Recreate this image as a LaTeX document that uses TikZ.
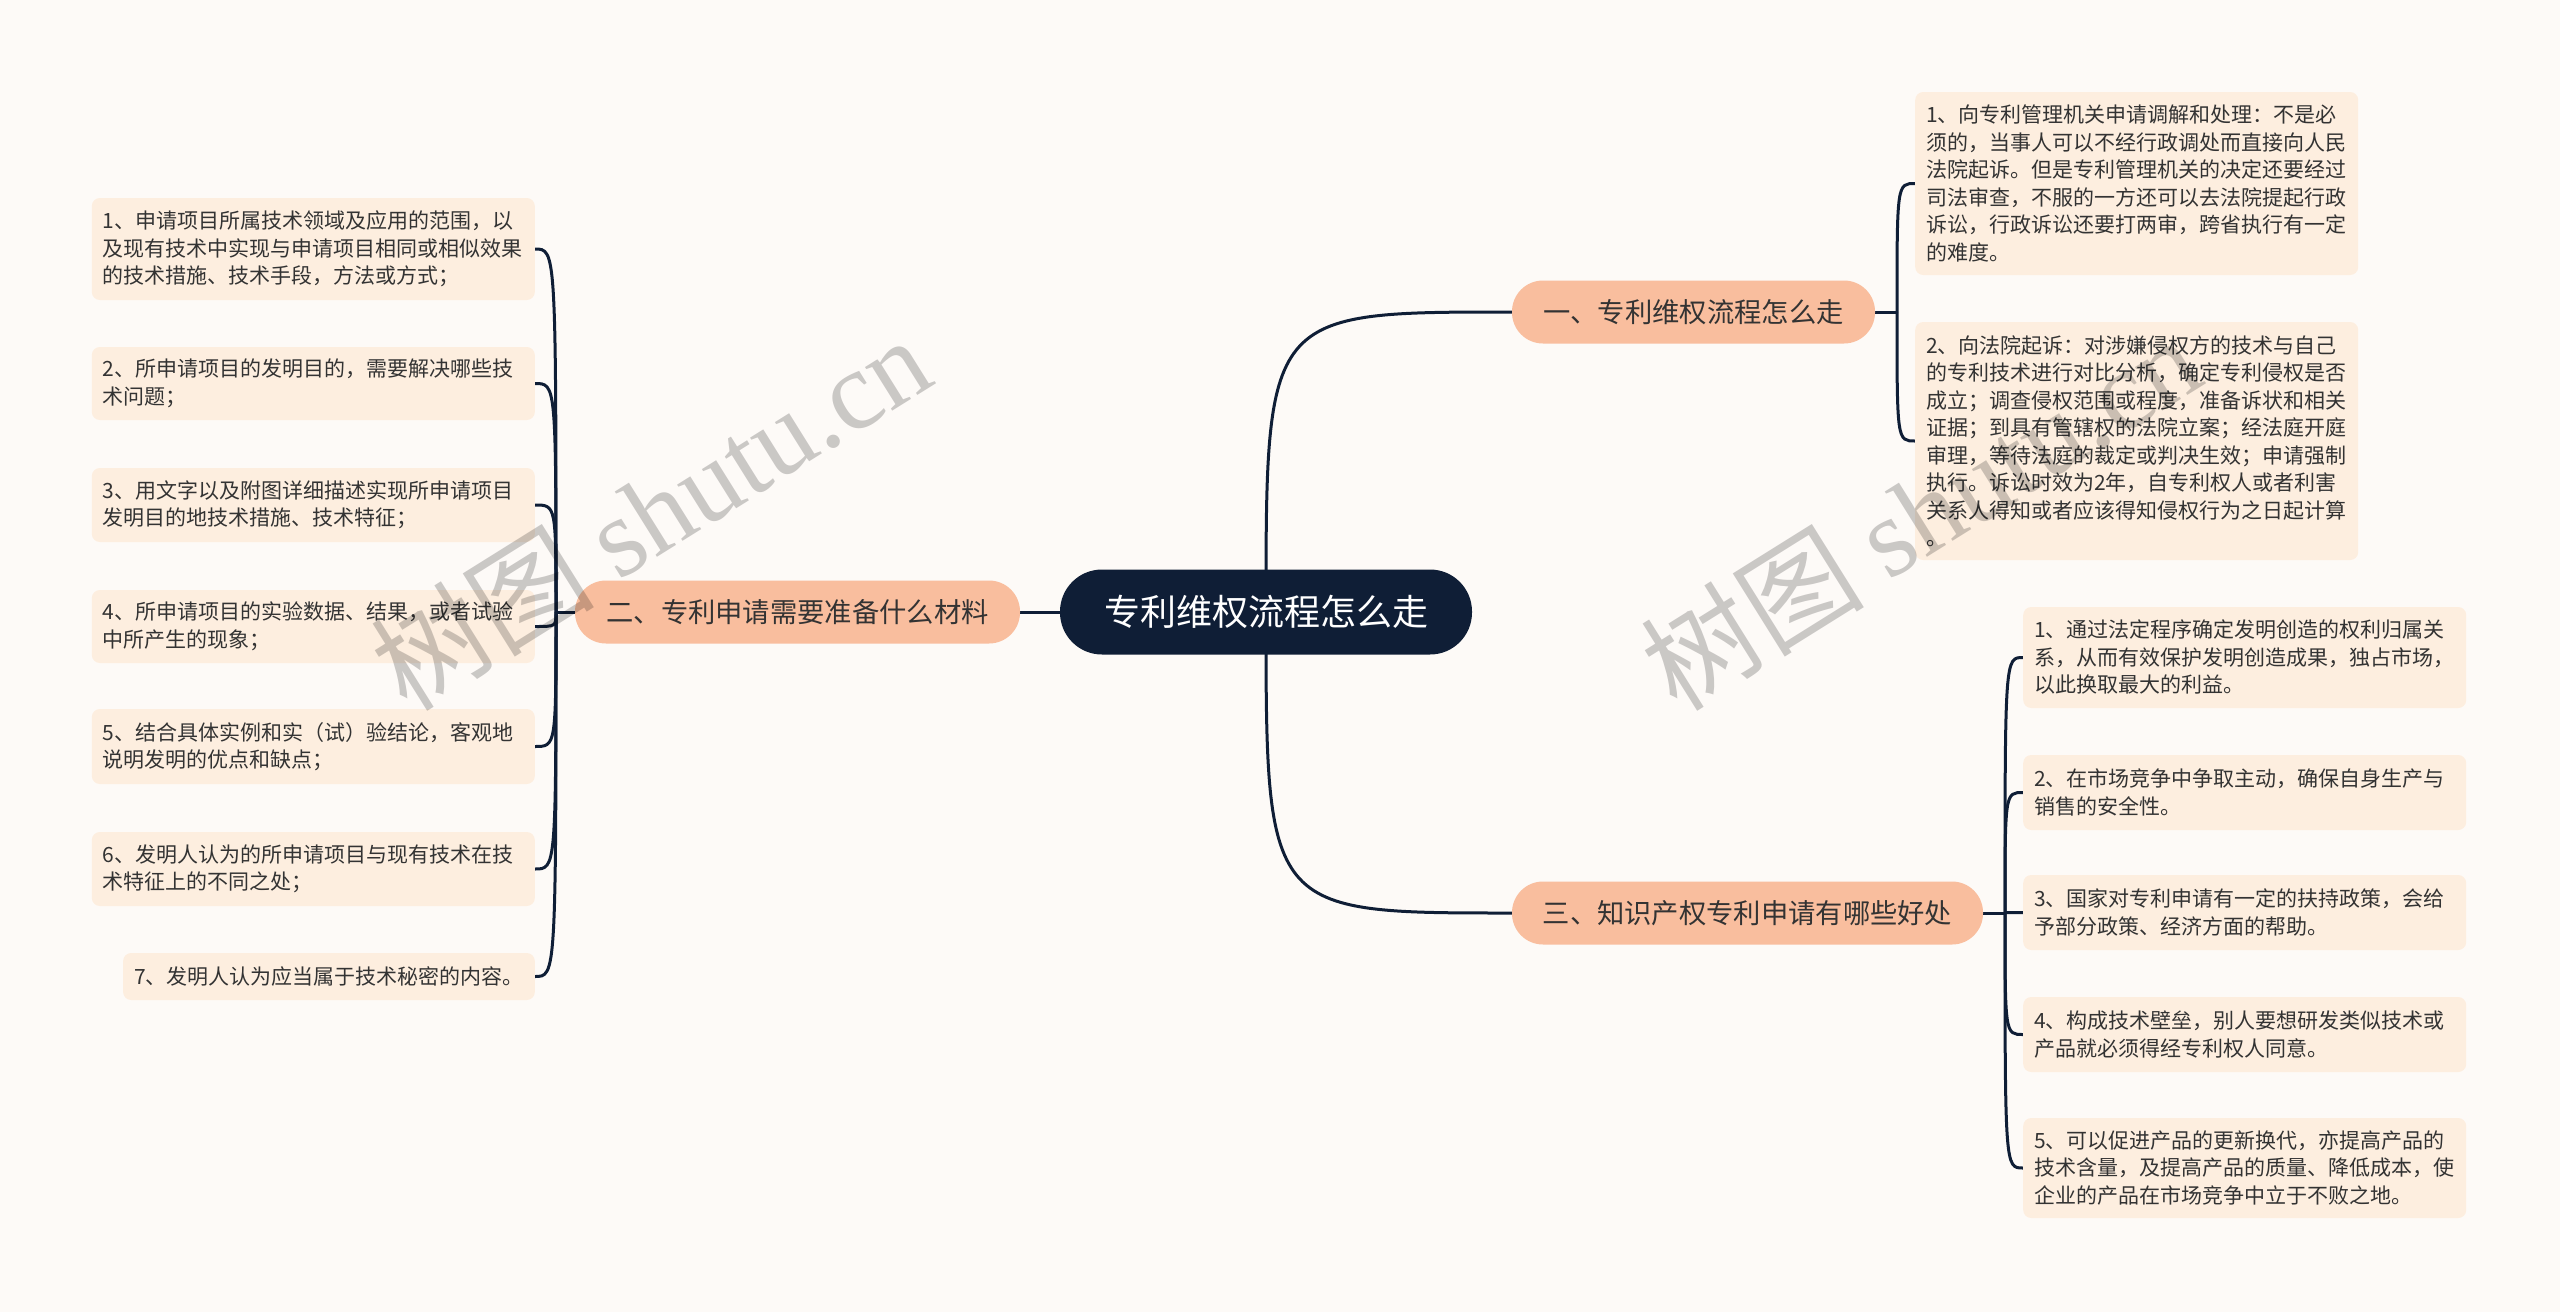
\documentclass[tikz,border=0pt]{standalone}
\usepackage{fontspec}
\setmainfont{Noto Sans CJK SC}
\newfontfamily\wmlatin{Liberation Serif}
\definecolor{bgc}{HTML}{FDFAF7}
\definecolor{leafc}{HTML}{FDEEDF}
\definecolor{brc}{HTML}{F9BE9E}
\definecolor{navy}{HTML}{0F1E36}
\definecolor{txt}{HTML}{333333}
\pgfdeclarelayer{bg}
\pgfsetlayers{bg,main}
\begin{document}
\begin{tikzpicture}[x=1pt,y=-1pt,
  leaf/.style={fill=leafc, rounded corners=8pt, text=txt, font=\fontsize{21}{27.5}\selectfont, align=left, inner xsep=11pt, inner ysep=9pt},
  leafw/.style={leaf, text width=421pt},
  branch/.style={fill=brc, rounded corners=31pt, text=txt, font=\fontsize{27.3}{32}\selectfont, minimum height=63pt, inner xsep=0pt},
  root/.style={fill=navy, rounded corners=42pt, text=white, font=\fontsize{36}{40}\selectfont, minimum height=85pt, minimum width=412pt},
  link/.style={draw=navy, line width=3pt},
  wm/.style={text=black, text opacity=0.2, font=\fontsize{112}{120}\selectfont}
]
\useasboundingbox (0,0) rectangle (2560,1312);
\begin{pgfonlayer}{bg}
\fill[bgc] (0,0) rectangle (2560,1312);
\end{pgfonlayer}

% root and branches
\node[root] (c) at (1266,612) {专利维权流程怎么走};
\node[branch, minimum width=363pt] (b1) at (1693.5,312) {一、专利维权流程怎么走};
\node[branch, minimum width=445pt] (b2) at (797.5,612) {二、专利申请需要准备什么材料};
\node[branch, minimum width=471pt] (b3) at (1747.5,913) {三、知识产权专利申请有哪些好处};

% left leaves
\node[leafw, anchor=east, minimum height=102pt] (l1) at (535,249) {1、申请项目所属技术领域及应用的范围，以\\及现有技术中实现与申请项目相同或相似效果\\的技术措施、技术手段，方法或方式；};
\node[leafw, anchor=east, minimum height=73pt] (l2) at (535,383.5) {2、所申请项目的发明目的，需要解决哪些技\\术问题；};
\node[leafw, anchor=east, minimum height=74pt] (l3) at (535,505) {3、用文字以及附图详细描述实现所申请项目\\发明目的地技术措施、技术特征；};
\node[leafw, anchor=east, minimum height=73pt] (l4) at (535,626.5) {4、所申请项目的实验数据、结果，或者试验\\中所产生的现象；};
\node[leafw, anchor=east, minimum height=75pt] (l5) at (535,746.5) {5、结合具体实例和实（试）验结论，客观地\\说明发明的优点和缺点；};
\node[leafw, anchor=east, minimum height=74pt] (l6) at (535,869) {6、发明人认为的所申请项目与现有技术在技\\术特征上的不同之处；};
\node[leaf, anchor=east, minimum height=47pt] (l7) at (535,976.5) {7、发明人认为应当属于技术秘密的内容。};

% branch 1 leaves
\node[leafw, anchor=west, minimum height=183pt] (r1) at (1915,183.5) {1、向专利管理机关申请调解和处理：不是必\\须的，当事人可以不经行政调处而直接向人民\\法院起诉。但是专利管理机关的决定还要经过\\司法审查，不服的一方还可以去法院提起行政\\诉讼，行政诉讼还要打两审，跨省执行有一定\\的难度。};
\node[leafw, anchor=west, minimum height=238pt] (r2) at (1915,441) {2、向法院起诉：对涉嫌侵权方的技术与自己\\的专利技术进行对比分析，确定专利侵权是否\\成立；调查侵权范围或程度，准备诉状和相关\\证据；到具有管辖权的法院立案；经法庭开庭\\审理，等待法庭的裁定或判决生效；申请强制\\执行。诉讼时效为2年，自专利权人或者利害\\关系人得知或者应该得知侵权行为之日起计算\\。};

% branch 3 leaves
\node[leafw, anchor=west, minimum height=101pt] (s1) at (2023,657.5) {1、通过法定程序确定发明创造的权利归属关\\系，从而有效保护发明创造成果，独占市场，\\以此换取最大的利益。};
\node[leafw, anchor=west, minimum height=75pt] (s2) at (2023,792.5) {2、在市场竞争中争取主动，确保自身生产与\\销售的安全性。};
\node[leafw, anchor=west, minimum height=75pt] (s3) at (2023,912.5) {3、国家对专利申请有一定的扶持政策，会给\\予部分政策、经济方面的帮助。};
\node[leafw, anchor=west, minimum height=75pt] (s4) at (2023,1034.5) {4、构成技术壁垒，别人要想研发类似技术或\\产品就必须得经专利权人同意。};
\node[leafw, anchor=west, minimum height=100pt] (s5) at (2023,1168) {5、可以促进产品的更新换代，亦提高产品的\\技术含量，及提高产品的质量、降低成本，使\\企业的产品在市场竞争中立于不败之地。};

\coordinate (j1) at (1897,312);
\coordinate (j2) at (556,612);
\coordinate (j3) at (2005,913);

\begin{pgfonlayer}{bg}
\draw[link] (c.center) .. controls (1266,312) .. (b1.west);
\draw[link] (c.center) .. controls (1266,913) .. (b3.west);
\draw[link] (c.west) -- (b2.east);
\draw[link] (b1.east) -- (j1);
\draw[link] (b2.west) -- (j2);
\draw[link] (b3.east) -- (j3);
\foreach \n in {r1,r2}{
  \draw[link] (j1) .. controls (j1 |- \n.west) .. (\n.west);
}
\foreach \n in {l1,l2,l3,l4,l5,l6,l7}{
  \draw[link] (j2) .. controls (j2 |- \n.east) .. (\n.east);
}
\foreach \n in {s1,s2,s3,s4,s5}{
  \draw[link] (j3) .. controls (j3 |- \n.west) .. (\n.west);
}
\end{pgfonlayer}

% watermarks
\node[wm, rotate=32] (wm1) at (650,512) {树图 {\wmlatin shutu.cn}};
\node[wm, rotate=32] (wm2) at (1920,512) {树图 {\wmlatin shutu.cn}};
\end{tikzpicture}
\end{document}
